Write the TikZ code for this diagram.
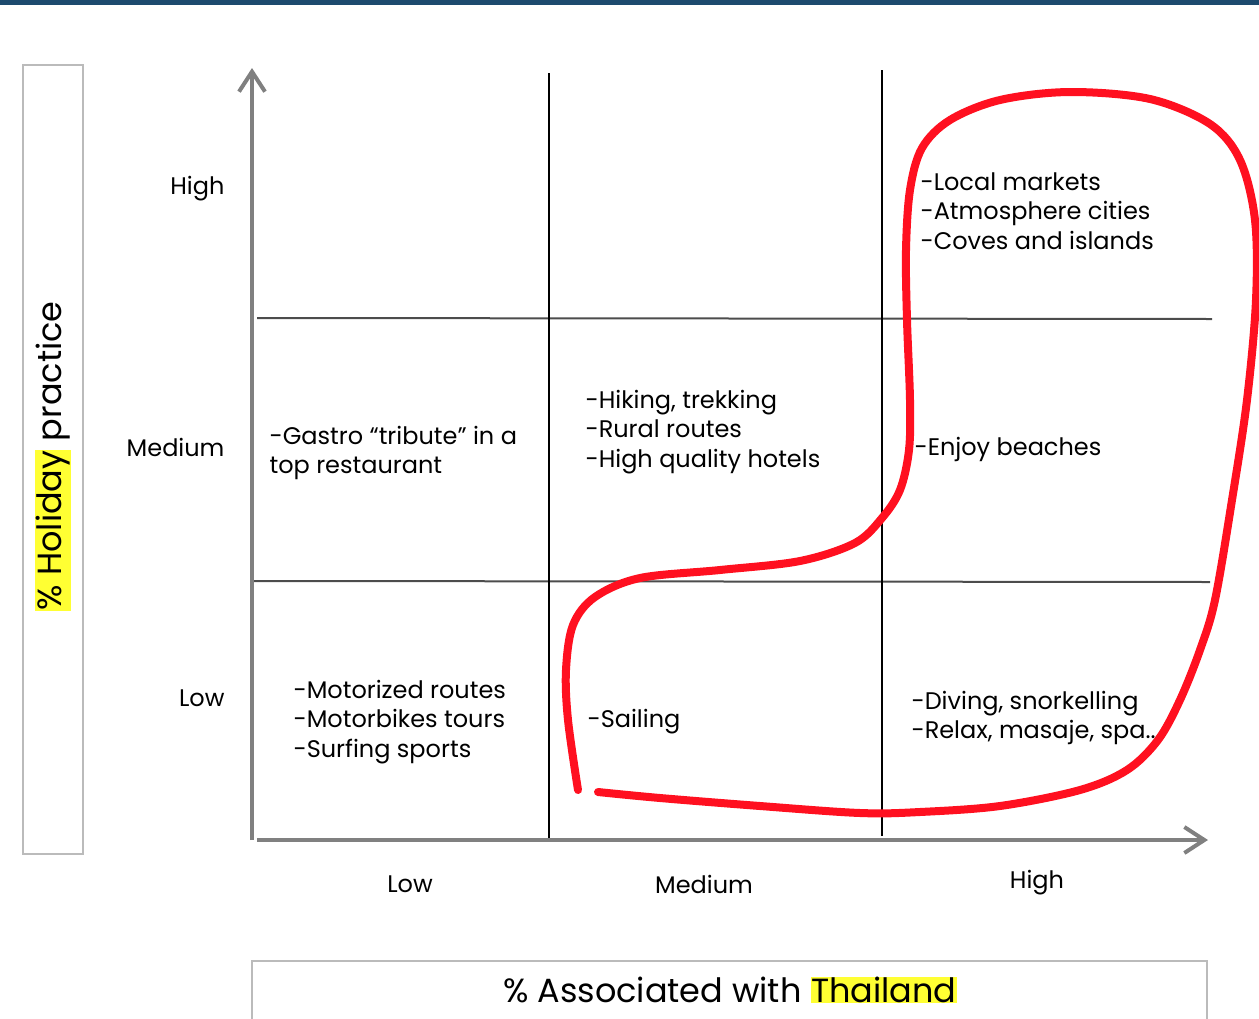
\documentclass[tikz,border=0pt]{standalone}
\usepackage{fontspec}
\setmainfont{Poppins}
\usepackage{xcolor}
\usetikzlibrary{arrows.meta,positioning}
\definecolor{barblue}{HTML}{1D4A6E}
\definecolor{markred}{HTML}{FF1020}
\definecolor{hilite}{HTML}{FFFF33}
\definecolor{axisgray}{HTML}{808080}
\definecolor{boxgray}{HTML}{BBBBBB}
\newcommand{\hl}[1]{{\setlength{\fboxsep}{0.5pt}\colorbox{hilite}{#1}}}

\begin{document}
\begin{tikzpicture}[x=1pt,y=-1pt,>={Straight Barb[length=20pt,width=26pt]},
	cell/.style={anchor=west,align=left,font=\fontsize{24}{29.5}\selectfont},
	level/.style={font=\fontsize{24}{28}\selectfont},
	axis/.style={draw=axisgray,line width=4pt},
	grid/.style={draw=black!70,line width=2pt},
	divider/.style={draw=black,line width=2.5pt},
	title/.style={font=\fontsize{33.5}{36}\selectfont}]
	\useasboundingbox (0,0) rectangle (1259,1018);
	\fill[barblue] (0,0) rectangle (1259,5);

	% frames of the axis titles
	\draw[boxgray,line width=2pt] (23,65) rectangle (83,854);
	\draw[boxgray,line width=2pt] (252,1025) -- (252,961) -- (1207,961) -- (1207,1025);
	\node[title,rotate=90] (ytitle) at (53,456) {\hl{\% Holiday} practice};
	\node[title] (xtitle) at (730,990) {\% Associated with \hl{Thailand}};

	% axes and grid
	\coordinate (origin) at (252,840);
	\coordinate (ytop) at (252,68);
	\coordinate (xend) at (1208,840);
	\coordinate (xstart) at (257,840);
	\coordinate (v1top) at (549,73);
	\coordinate (v1bot) at (549,840);
	\coordinate (v2top) at (882,70);
	\coordinate (v2bot) at (882,836);
	\coordinate (h1l) at (257,318);
	\coordinate (h1r) at (1212,319);
	\coordinate (h2l) at (254,581);
	\coordinate (h2r) at (1210,582);
	\draw[grid] (h1l) -- (h1r);
	\draw[grid] (h2l) -- (h2r);
	\draw[divider] (v1top) -- (v1bot);
	\draw[divider] (v2top) -- (v2bot);
	\draw[axis,->] (origin) -- (ytop);
	\draw[axis,->] (xstart) -- (xend);

	% levels
	\node[level,anchor=east] (yhigh) at (228,189) {High};
	\node[level,anchor=east] (ymed) at (228,447) {Medium};
	\node[level,anchor=east] (ylow) at (228,698) {Low};
	\node[level] (xlow) at (410,884) {Low};
	\node[level] (xmed) at (704,884) {Medium};
	\node[level] (xhigh) at (1037,883) {High};

	% practices
	\node[cell] (gastro) at (266,453) {-Gastro “tribute” in a\\top restaurant};
	\node[cell] (hiking) at (582,432) {-Hiking, trekking\\-Rural routes\\-High quality hotels};
	\node[cell] (markets) at (917,211) {-Local markets\\-Atmosphere cities\\-Coves and islands};
	\node[cell] (beaches) at (911,449) {-Enjoy beaches};
	\node[cell] (motor) at (290,722) {-Motorized routes\\-Motorbikes tours\\-Surfing sports};
	\node[cell] (sailing) at (584,722) {-Sailing};
	\node[cell] (diving) at (908,718) {-Diving, snorkelling\\-Relax, masaje, spa..};

	% hand drawn mark
	\draw[markred,line width=8pt,line cap=round] plot[smooth,tension=0.55] coordinates {
		(578,790) (568,720) (566,670) (573,625) (595,597) (640,578) (720,570)
		(800,561) (855,543) (882,518) (900,490) (909,450) (910,400) (907,320)
		(906,250) (910,190) (922,148) (950,120) (1000,100) (1070,92) (1150,99)
		(1210,124) (1240,160) (1255,220) (1256,300) (1247,400) (1232,500)
		(1215,600) (1200,650) (1180,700) (1158,740) (1127,770) (1080,790)
		(1000,806) (920,812) (860,813) (760,806) (660,798) (598,792)};
\end{tikzpicture}
\end{document}
